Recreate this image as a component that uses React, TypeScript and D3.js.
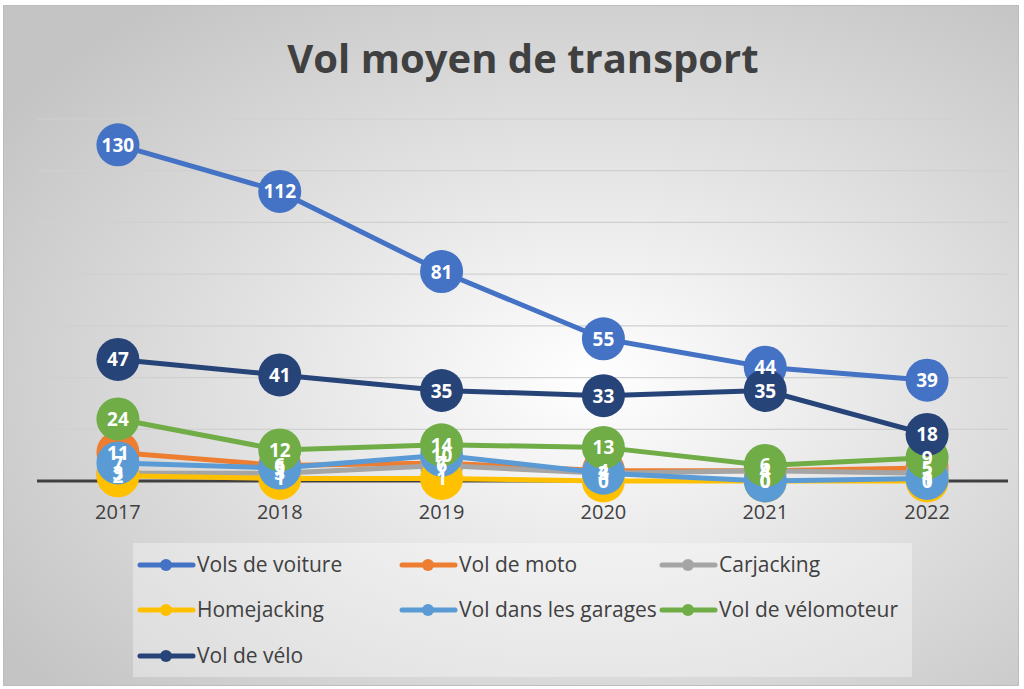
import React, { useRef, useEffect } from 'react';
import * as d3 from 'd3';

const years = ['2017', '2018', '2019', '2020', '2021', '2022'];
const seriesNames = [
  'Vols de voiture',
  'Vol de moto',
  'Carjacking',
  'Homejacking',
  'Vol dans les garages',
  'Vol de vélomoteur',
  'Vol de vélo',
];
const seriesColors = ['#4472C4', '#ED7D31', '#A5A5A5', '#FFC000', '#5B9BD5', '#70AD47', '#264478'];
const volsVoiture = [130, 112, 81, 55, 44, 39];
const volMoto = [11, 6, 7, 4, 4, 5];
const carjacking = [3, 3, 6, 3, 4, 3];
const homejacking = [2, 1, 1, 0, 0, 0];
const volGarages = [7, 5, 10, 3, 0, 1];
const volVelomoteur = [24, 12, 14, 13, 6, 9];
const volVelo = [47, 41, 35, 33, 35, 18];
const yTicks = [0, 20, 40, 60, 80, 100, 120, 140];

const W = 1024;
const H = 689;
const FONT = "'Open Sans', 'Liberation Sans', sans-serif";

function Chart() {
  const ref = useRef(null);

  useEffect(() => {
    const svg = d3.select(ref.current);
    svg.selectAll('*').remove();

    const allSeries = [volsVoiture, volMoto, carjacking, homejacking, volGarages, volVelomoteur, volVelo].map(
      (values, i) => ({ name: seriesNames[i], color: seriesColors[i], values })
    );

    const defs = svg.append('defs');
    const grad = defs
      .append('radialGradient')
      .attr('id', 'bg')
      .attr('cx', '58%')
      .attr('cy', '55%')
      .attr('r', '70%');
    grad.append('stop').attr('offset', '0%').attr('stop-color', '#ffffff');
    grad.append('stop').attr('offset', '100%').attr('stop-color', '#c4c4c4');

    svg.append('rect').attr('x', 0).attr('y', 0).attr('width', W).attr('height', H).attr('fill', '#ffffff');
    svg
      .append('rect')
      .attr('x', 3.5)
      .attr('y', 5.5)
      .attr('width', 1015)
      .attr('height', 680)
      .attr('fill', 'url(#bg)')
      .attr('stroke', '#bdbdbd')
      .attr('stroke-width', 1);

    // title
    svg
      .append('text')
      .attr('x', 523)
      .attr('y', 73)
      .attr('text-anchor', 'middle')
      .attr('font-family', FONT)
      .attr('font-weight', 'bold')
      .attr('font-size', 40)
      .attr('fill', '#404040')
      .text('Vol moyen de transport');

    const x = d3.scaleBand().domain(years).range([37, 1008]);
    const y = d3.scaleLinear().domain([0, 140]).range([481, 119]);
    const cx = (d) => x(d) + x.bandwidth() / 2;

    const g = svg.append('g');

    g.selectAll('line.grid')
      .data(yTicks.filter((t) => t > 0))
      .enter()
      .append('line')
      .attr('class', 'grid')
      .attr('x1', 37)
      .attr('x2', 1008)
      .attr('y1', (d) => y(d))
      .attr('y2', (d) => y(d))
      .attr('stroke', '#d0d0d0')
      .attr('stroke-width', 1.2);

    g.append('line')
      .attr('x1', 37)
      .attr('x2', 1008)
      .attr('y1', y(0))
      .attr('y2', y(0))
      .attr('stroke', '#404040')
      .attr('stroke-width', 3);

    g.selectAll('text.xlab')
      .data(years)
      .enter()
      .append('text')
      .attr('class', 'xlab')
      .attr('x', (d) => cx(d))
      .attr('y', 519)
      .attr('text-anchor', 'middle')
      .attr('font-family', FONT)
      .attr('font-size', 20)
      .attr('fill', '#404040')
      .text((d) => d);

    const line = d3
      .line()
      .x((d, i) => cx(years[i]))
      .y((d) => y(d));

    allSeries.forEach((s) => {
      const sg = g.append('g');
      sg.append('path')
        .attr('d', line(s.values))
        .attr('fill', 'none')
        .attr('stroke', s.color)
        .attr('stroke-width', 5)
        .attr('stroke-linejoin', 'round')
        .attr('stroke-linecap', 'round');
      sg.selectAll('circle')
        .data(s.values)
        .enter()
        .append('circle')
        .attr('cx', (d, i) => cx(years[i]))
        .attr('cy', (d) => y(d))
        .attr('r', 21.5)
        .attr('fill', s.color);
    });

    allSeries.forEach((s) => {
      g.append('g')
        .selectAll('text')
        .data(s.values)
        .enter()
        .append('text')
        .attr('x', (d, i) => cx(years[i]))
        .attr('y', (d) => y(d) + 7)
        .attr('text-anchor', 'middle')
        .attr('font-family', FONT)
        .attr('font-weight', 'bold')
        .attr('font-size', 19)
        .attr('fill', '#ffffff')
        .text((d) => d);
    });

    // legend
    const lg = svg.append('g');
    lg.append('rect')
      .attr('x', 133)
      .attr('y', 543)
      .attr('width', 779)
      .attr('height', 134)
      .attr('fill', '#ffffff')
      .attr('opacity', 0.35);
    const colX = [138, 400, 660];
    const rowY = [565, 610, 656];
    allSeries.forEach((s, i) => {
      const lx = colX[i % 3];
      const ly = rowY[Math.floor(i / 3)];
      lg.append('line')
        .attr('x1', lx + 2)
        .attr('x2', lx + 55)
        .attr('y1', ly)
        .attr('y2', ly)
        .attr('stroke', s.color)
        .attr('stroke-width', 5)
        .attr('stroke-linecap', 'round');
      lg.append('circle').attr('cx', lx + 28).attr('cy', ly).attr('r', 6).attr('fill', s.color);
      lg.append('text')
        .attr('x', lx + 59)
        .attr('y', ly + 7)
        .attr('font-family', FONT)
        .attr('font-size', 21)
        .attr('fill', '#404040')
        .text(s.name);
    });
  }, []);

  return <svg ref={ref} width={W} height={H} style={{ position: 'absolute', left: 0, top: 0, display: 'block' }}></svg>;
}

export default function App() {
  return <Chart />;
}
